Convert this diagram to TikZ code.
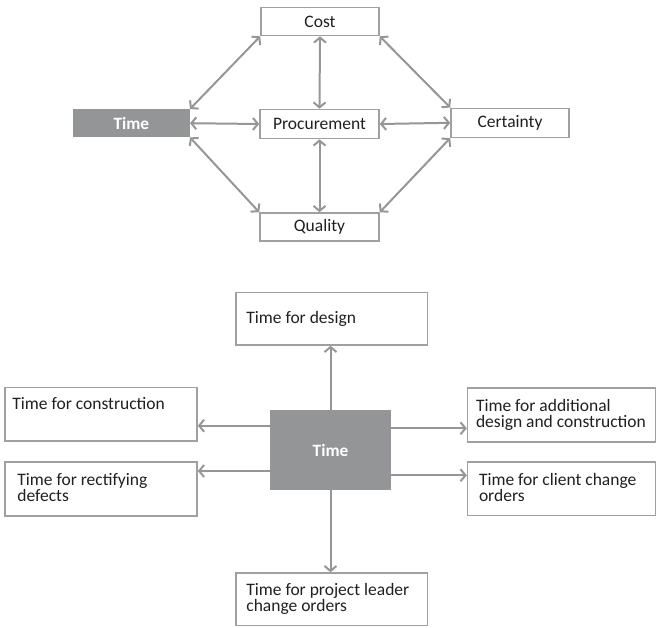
\documentclass[tikz,border=0pt]{standalone}
\usepackage{fontspec}
\setmainfont{Carlito}
\usetikzlibrary{arrows.meta}
\definecolor{edgegray}{HTML}{A0A0A0}
\definecolor{arrowgray}{HTML}{969696}
\definecolor{darkfill}{HTML}{939596}
\definecolor{inkc}{HTML}{231F20}
\tikzset{
  box/.style={draw=edgegray, line width=1.6pt, fill=white, inner sep=0pt},
  hub/.style={fill=darkfill, draw=none, inner sep=0pt, text=white,
    font=\fontsize{17.3}{16.3}\selectfont\bfseries},
  lbl/.style={text=inkc, inner sep=0pt, font=\fontsize{17.5}{16.3}\selectfont},
  para/.style={lbl, align=left, anchor=north west},
  tip/.style={Straight Barb[length=5pt,width=12pt]},
  link/.style={draw=arrowgray, line width=2pt, {Straight Barb[length=5pt,width=12pt]}-{Straight Barb[length=5pt,width=12pt]}},
  arr/.style={draw=arrowgray, line width=2pt, -{Straight Barb[length=5pt,width=12pt]}},
}
\begin{document}
\begin{tikzpicture}[x=1pt,y=-1pt]
\useasboundingbox (0,0) rectangle (656,627);

% ---- upper network: time, cost, quality, certainty around procurement
\node[box, lbl, minimum width=118pt, minimum height=28pt] (cost) at (320,21.5) {Cost};
\node[hub, minimum width=117pt, minimum height=28pt] (tA) at (131.3,123.2) {Time};
\node[box, lbl, minimum width=119pt, minimum height=29pt] (proc) at (319.5,124) {Procurement};
\node[box, lbl, minimum width=118pt, minimum height=29pt] (cert) at (510,122.8) {Certainty};
\node[box, lbl, minimum width=119pt, minimum height=28pt] (qual) at (319.5,227) {Quality};

\draw[link] (tA.north east) -- (cost.south west);
\draw[link] (cost.south) -- (proc.north);
\draw[link] (cost.south east) -- (cert.north west);
\draw[link] (tA.east) -- (proc.west);
\draw[link] (proc.east) -- (cert.west);
\draw[link] (tA.south east) -- (qual.north west);
\draw[link] (proc.south) -- (qual.north);
\draw[link] (qual.north east) -- (cert.south west);

% ---- lower breakdown of time
\node[hub, minimum width=121pt, minimum height=80pt] (tB) at (330.5,450.2) {Time};

\node[box, minimum width=191.7pt, minimum height=52.3pt] (design) at (331.8,318.8) {};
\node[box, minimum width=192pt, minimum height=53.7pt] (cons) at (101,414.2) {};
\node[box, minimum width=188pt, minimum height=54pt] (addl) at (561.6,414.7) {};
\node[box, minimum width=192pt, minimum height=54pt] (rect) at (101,489) {};
\node[box, minimum width=188pt, minimum height=53.3pt] (client) at (561.6,488.7) {};
\node[box, minimum width=191.7pt, minimum height=52.3pt] (leader) at (331.8,599.2) {};

\node[para] (tdesign) at ([xshift=11pt,yshift=-19pt]design.north west) {Time for design};
\node[para] (tcons) at ([xshift=8pt,yshift=-10.7pt]cons.north west) {Time for construction};
\node[para] (taddl) at ([xshift=9pt,yshift=-12pt]addl.north west) {Time for additional\\design and construction};
\node[para] (trect) at ([xshift=13pt,yshift=-12pt]rect.north west) {Time for rectifying\\defects};
\node[para] (tclient) at ([xshift=12pt,yshift=-12pt]client.north west) {Time for client change\\orders};
\node[para] (tleader) at ([xshift=11pt,yshift=-11pt]leader.north west) {Time for project leader\\change orders};

\coordinate (l1) at ([yshift=24.5pt]tB.west);
\coordinate (l2) at ([yshift=-20.8pt]tB.west);
\coordinate (r1) at ([yshift=21.9pt]tB.east);
\coordinate (r2) at ([yshift=-25.1pt]tB.east);

\draw[arr] (tB.north) -- (tB.north |- design.south);
\draw[arr] (tB.south) -- (tB.south |- leader.north);
\draw[arr] (l1) -- (l1 -| cons.east);
\draw[arr] (l2) -- (l2 -| rect.east);
\draw[arr] (r1) -- (r1 -| addl.west);
\draw[arr] (r2) -- (r2 -| client.west);
\end{tikzpicture}
\end{document}
